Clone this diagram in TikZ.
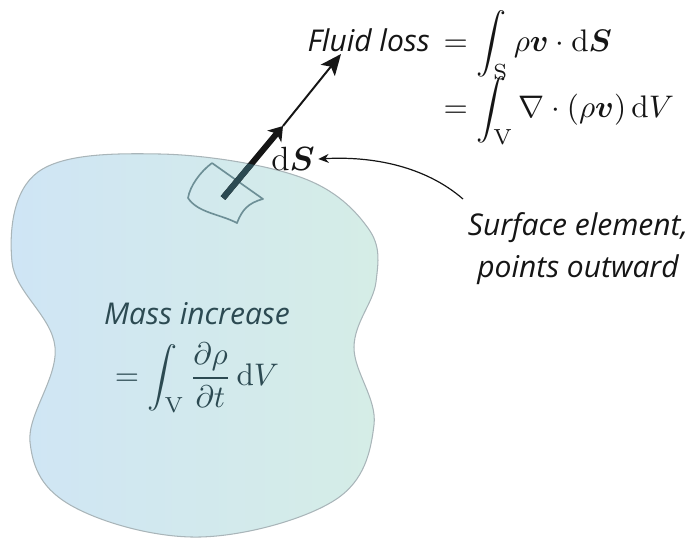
\documentclass[tikz,border=0pt]{standalone}
\usepackage{fix-cm}
\usepackage{amsmath}
\usepackage{bm}
\usepackage{fontspec}
\newfontfamily\notefont{Open Sans}
\usetikzlibrary{arrows.meta,calc}
\definecolor{ink}{HTML}{151515}
\definecolor{deep}{HTML}{2C4A52}
\definecolor{blobL}{HTML}{CFE5F5}
\definecolor{blobR}{HTML}{D5EDE6}
\definecolor{rim}{HTML}{A9B5B9}
\definecolor{patch}{HTML}{6D8F96}
\newcommand{\mathsz}{\fontsize{10.4}{13}\selectfont}

\begin{document}
\begin{tikzpicture}[x=0.3333pt,y=-0.3333pt,
  note/.style={font=\notefont\itshape,text=ink,inner sep=1pt},
  formula/.style={font=\mathsz,text=ink,inner sep=1pt},
  inside/.style={font=\mathsz,text=deep,inner sep=1pt,align=center},
  normal/.style={draw=ink,line width=0.65pt,-{Stealth[length=7pt,width=6pt,inset=1.6pt]}},
  element/.style={draw=ink,line width=2pt,-{Stealth[length=4.5pt,width=6pt,inset=1.2pt]}},
  callout/.style={draw=ink,line width=0.4pt,-{Stealth[length=3.5pt,width=3pt]}}
]
\useasboundingbox (0,0) rectangle (686,540);
\def\blobpath{plot[smooth cycle,tension=0.62] coordinates {(160,154) (300,177) (368,228) (376,282)
  (354,347) (374,425) (335,500) (200,537) (72,506) (30,442) (55,347) (12,262) (38,172)}}
% ---- the volume
\shade[left color=blobL,right color=blobR,draw=rim,line width=0.35pt] \blobpath;
% ---- surface element patch
\draw[patch,line width=0.55pt,line join=round]
  (212,163) -- (263,199) .. controls (248,203) and (242,210) .. (237,223)
  .. controls (220,214) and (198,213) .. (188,198)
  .. controls (190,186) and (200,172) .. (212,163);
% ---- normal vector
\coordinate (base) at (223,198);
\coordinate (tipA) at (283,126);
\coordinate (tipB) at (341,54);
\draw[normal] (tipA) -- (tipB);
\draw[element] (base) -- (tipA);
\begin{scope}
  \clip \blobpath;
  \draw[deep,line width=2pt] (base) -- (tipA);
\end{scope}
% ---- labels
\node[formula,anchor=west] (loss) at (304,78)
  {$\begin{aligned}\text{\normalsize\notefont\itshape Fluid loss}\, &= \int_{\mathrm{S}} \rho\bm{v}\cdot\mathrm{d}\bm{S}\\[-5pt]
     &= \int_{\mathrm{V}} \nabla\cdot(\rho\bm{v})\,\mathrm{d}V\end{aligned}$};
\node[formula,font=\fontsize{11.2}{14}\selectfont] (dS) at (293,159) {$\mathrm{d}\bm{S}$};
\node[note,align=center] (surf) at (578,249) {Surface element,\\[2pt]points outward};
\coordinate (cstart) at (463,199);
\draw[callout] (cstart) .. controls (425,166) and (372,156) .. (dS.east);
\node[inside] (mass) at (197,358)
  {{\normalsize\notefont\itshape Mass increase}\\[5pt] $\displaystyle=\int_{\mathrm{V}}\frac{\partial\rho}{\partial t}\,\mathrm{d}V$};
\end{tikzpicture}
\end{document}
